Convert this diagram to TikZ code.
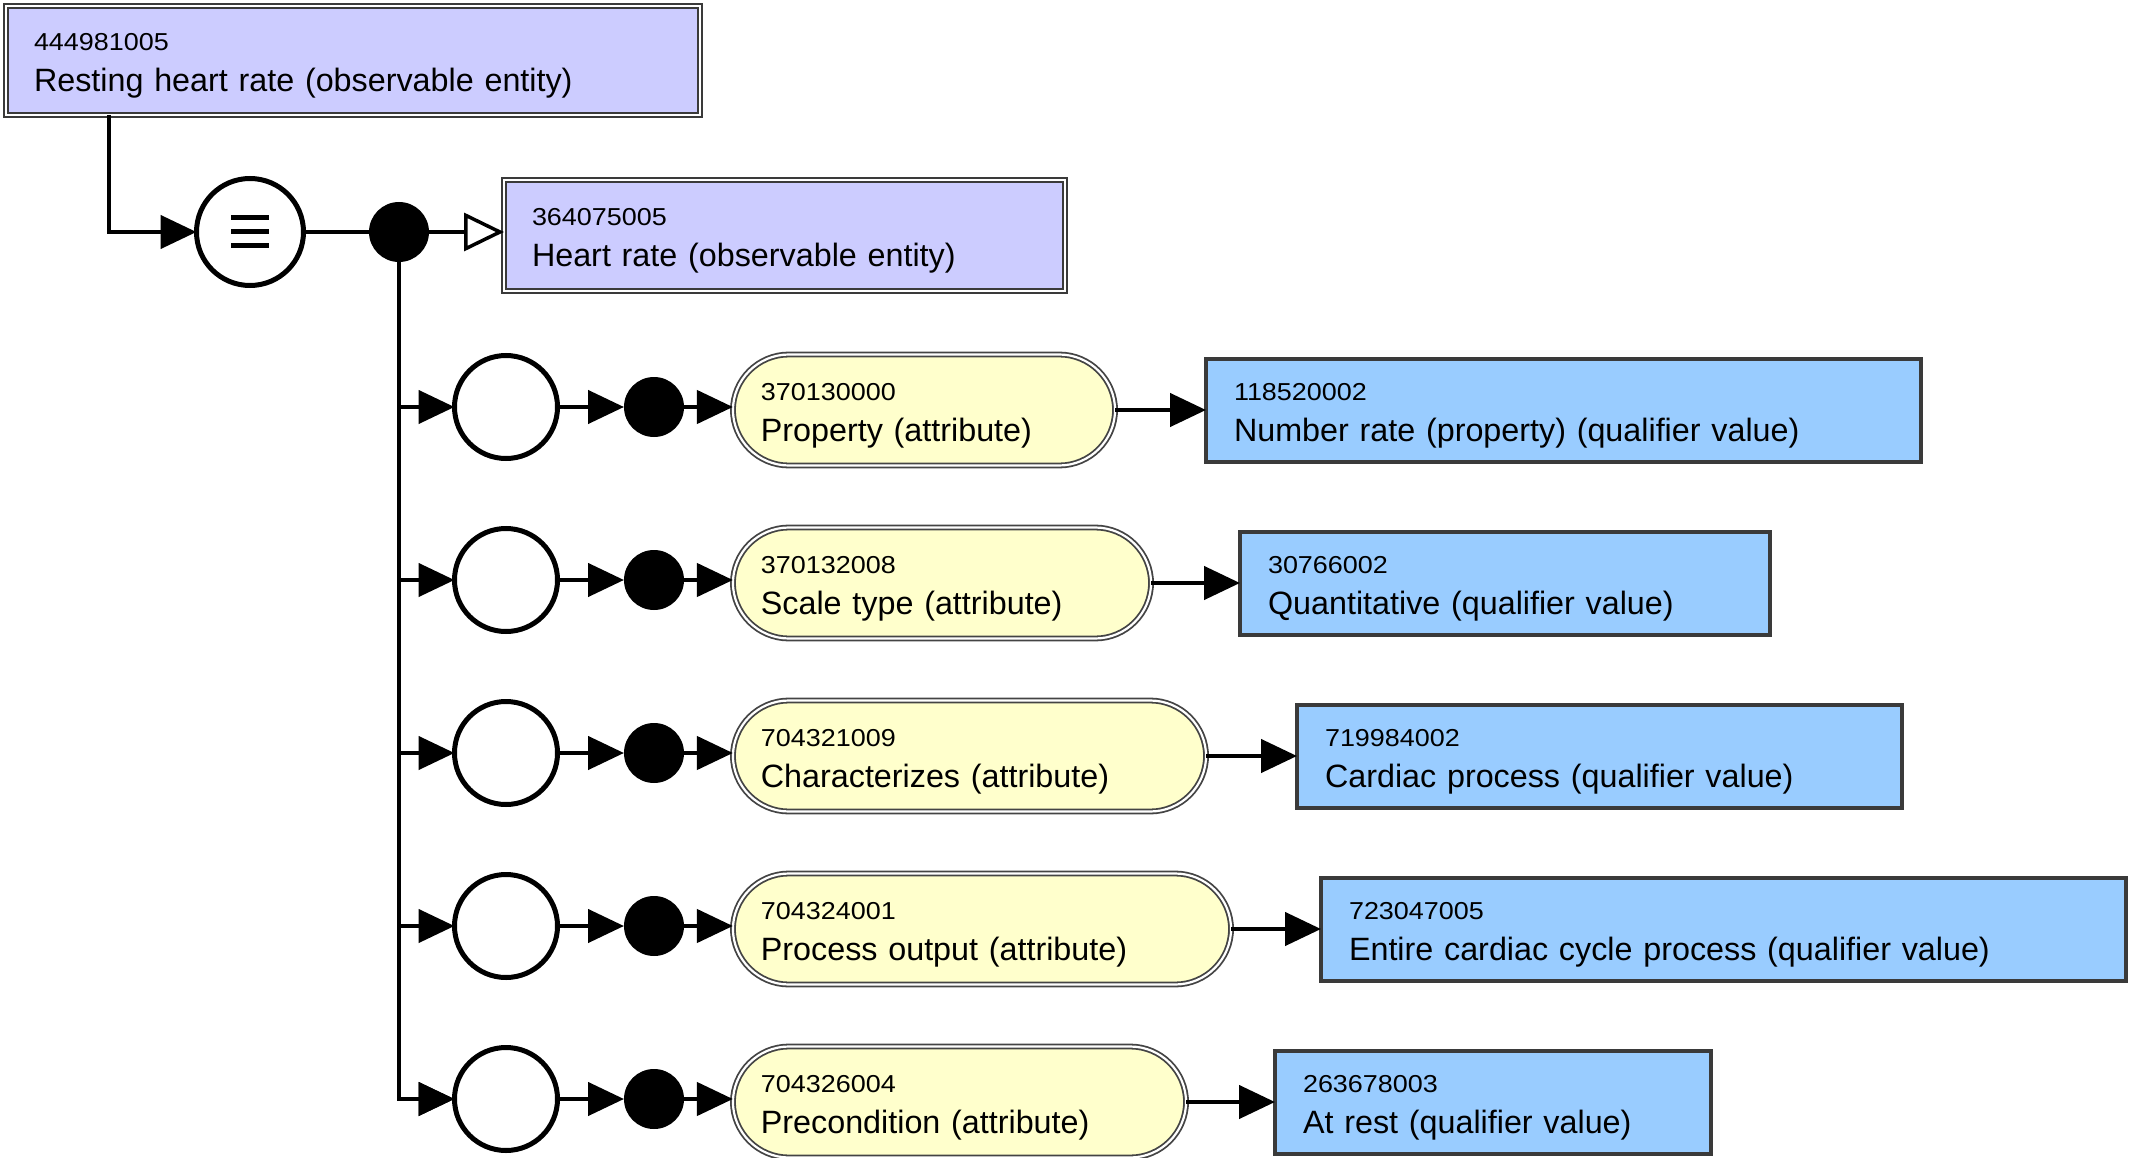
\documentclass[tikz,border=0pt]{standalone}
\usepackage{fontspec}
\setmainfont{Liberation Sans}
\newfontfamily\idfam[FakeStretch=1.1]{Liberation Sans}
\newfontfamily\lblfam{Liberation Sans}
\usetikzlibrary{arrows.meta,calc}
\definecolor{obsfill}{HTML}{CCCCFF}
\definecolor{attrfill}{HTML}{FFFFCC}
\definecolor{valfill}{HTML}{99CCFF}
\definecolor{bord}{HTML}{3A3A3A}
\definecolor{pillbord}{HTML}{444444}
\newcommand\myidfont{\idfam\fontsize{24.5}{28}\selectfont}
\newcommand\mylblfont{\lblfam\fontsize{32.3}{41}\selectfont}
\begin{document}
\begin{tikzpicture}[x=1pt,y=-1pt,
  base/.style={inner xsep=28pt, inner ysep=0pt, align=left, anchor=west, outer sep=0pt, text height=17.5pt, text depth=36.5pt, font=\mylblfont},
  obsbox/.style={base, fill=obsfill, draw=bord, line width=2pt, double=white, double distance=2pt},
  attrbox/.style={base, fill=attrfill, draw=pillbord, line width=1.8pt, double=white, double distance=2.2pt, rounded corners=56pt, minimum height=111pt},
  valbox/.style={base, fill=valfill, draw=bord, line width=4pt, minimum height=103pt},
  ring/.style={circle, draw=black, line width=5pt, fill=white, minimum size=103pt, inner sep=0pt, outer sep=0pt},
  blob/.style={circle, fill=black, minimum size=60pt, inner sep=0pt, outer sep=0pt},
  conn/.style={line width=4.5pt, draw=black},
  arr/.style={conn, -{Triangle[length=36pt, width=33pt]}},
  openarr/.style={conn, line width=3.5pt, -{Triangle[open, length=40pt, width=38pt, fill=white]}}
]
\useasboundingbox (0,0) rectangle (2133,1158);

% top concept
\node[obsbox, minimum height=109pt, text width=638pt] (A) at (6,60.5)
  {\myidfont 444981005\\\mylblfont Resting heart rate (observable entity)};

% equivalence circle and group dot
\node[ring, minimum size=107pt] (eq) at (250,232) {};
\draw[line width=5pt] ($(eq.center)+(-19,-14)$) -- ($(eq.center)+(19,-14)$);
\draw[line width=5pt] ($(eq.center)+(-19,0)$) -- ($(eq.center)+(19,0)$);
\draw[line width=5pt] ($(eq.center)+(-19,14)$) -- ($(eq.center)+(19,14)$);
\node[blob] (g) at (399,232) {};

% parent concept
\node[obsbox, minimum height=111pt, text width=505pt] (B) at (504,235.5)
  {\myidfont 364075005\\\mylblfont Heart rate (observable entity)};

\draw[arr] ($(A.south west)+(103,0)$) |- (eq.west);
\draw[conn] (eq.east) -- (g.west);
\draw[openarr] (g.east) -- (g.east -| B.west);

% attribute rows
\foreach \i/\y/\pw/\vx/\vw/\aid/\alab/\vid/\vlab in {
  1/407/388/1204/719/370130000/Property (attribute)/118520002/Number rate (property) (qualifier value),
  2/580/424/1238/534/370132008/Scale type (attribute)/30766002/Quantitative (qualifier value),
  3/753/479/1295/609/704321009/Characterizes (attribute)/719984002/Cardiac process (qualifier value),
  4/926/504/1319/809/704324001/Process output (attribute)/723047005/Entire cardiac cycle process (qualifier value),
  5/1099/459/1273/440/704326004/Precondition (attribute)/263678003/At rest (qualifier value)}{
  \node[ring] (c\i) at (506,\y) {};
  \node[blob] (d\i) at (654,\y) {};
  \pgfmathsetmacro{\ptw}{\pw-5.8-56}
  \pgfmathsetmacro{\vtw}{\vw-4-56}
  \node[attrbox, text width=\ptw pt] (p\i) at (732.9,\y+3)
    {\myidfont \aid\\\mylblfont \alab};
  \node[valbox, text width=\vtw pt] (v\i) at (\vx+2,\y+3)
    {\myidfont \vid\\\mylblfont \vlab};
  \draw[arr] (g.south |- c\i.west) -- (c\i.west);
  \draw[arr] (c\i.east) -- (d\i.west);
  \draw[arr] (d\i.east) -- (d\i.east -| p\i.west);
  \draw[arr] (p\i.east) -- (v\i.west);
}
\draw[arr] (g.south) |- (c5.west);
\end{tikzpicture}
\end{document}
